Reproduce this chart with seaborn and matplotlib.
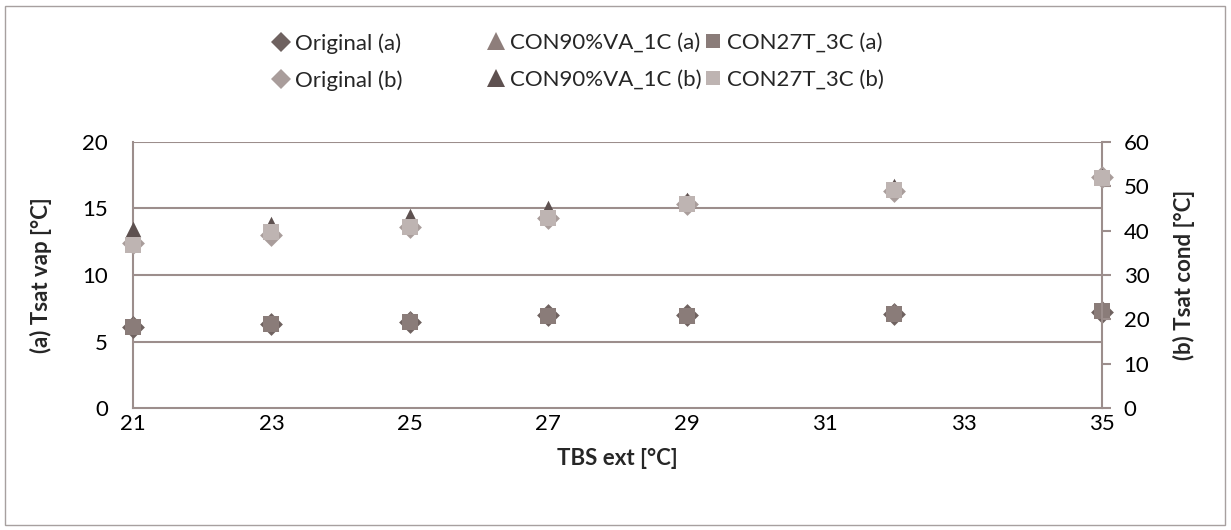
import matplotlib
matplotlib.use("Agg")
import matplotlib.pyplot as plt
import seaborn as sns
from matplotlib.lines import Line2D
from matplotlib.patches import Rectangle

# Outdoor dry-bulb temperature [°C]
tbs_ext = [21, 23, 25, 27, 29, 32, 35]

# (a) evaporating saturation temperature [°C] - left axis
original_a = [6.1, 6.3, 6.5, 7.0, 7.0, 7.1, 7.2]
con90_a = [6.3, 6.4, 6.7, 7.0, 7.0, 7.3, 7.5]
con27_a = [6.1, 6.3, 6.5, 6.9, 6.9, 7.1, 7.3]

# (b) condensing saturation temperature [°C] - right axis
original_b = [37.2, 38.9, 40.9, 42.9, 46.0, 48.9, 52.0]
con90_b = [40.4, 41.5, 43.2, 45.1, 46.9, 50.0, 52.3]
con27_b = [36.7, 39.6, 40.8, 42.9, 45.9, 49.2, 51.9]

labels = ["Original (a)", "CON90%VA_1C (a)", "CON27T_3C (a)",
          "Original (b)", "CON90%VA_1C (b)", "CON27T_3C (b)"]

sns.set_theme(style="white")
plt.rcParams["font.family"] = ["Lato", "DejaVu Sans"]

FS = 16
AXIS_COL = "#9C8E8C"
TEXT_COL = "#000000"

c_orig_a = "#6F6260"
c_con90_a = "#8E7E7B"
c_con27_a = "#8A7C79"
c_orig_b = "#A99D9B"
c_con90_b = "#5E5150"
c_con27_b = "#BEB4B2"

fig = plt.figure(figsize=(12.31, 5.30), dpi=100)
fig.patch.set_facecolor("white")
fig.patches.append(Rectangle((5 / 1231, 5 / 530), 1220 / 1231, 519 / 530,
                             transform=fig.transFigure, fill=False,
                             edgecolor="#A7A09F", linewidth=1.0))

ax = fig.add_axes([133 / 1231, (530 - 408.3) / 530, 969 / 1231, 266.6 / 530])
ax2 = ax.twinx()

# primary axis series
sns.scatterplot(x=tbs_ext, y=original_a, ax=ax, marker="D", s=135,
                color=c_orig_a, linewidth=0, zorder=3, clip_on=False)
sns.scatterplot(x=tbs_ext, y=con90_a, ax=ax, marker="^", s=125,
                color=c_con90_a, linewidth=0, zorder=4, clip_on=False)
sns.scatterplot(x=tbs_ext, y=con27_a, ax=ax, marker="s", s=125,
                color=c_con27_a, linewidth=0, zorder=5, clip_on=False)

# secondary axis series
sns.scatterplot(x=tbs_ext, y=original_b, ax=ax2, marker="D", s=135,
                color=c_orig_b, linewidth=0, zorder=3, clip_on=False)
sns.scatterplot(x=tbs_ext, y=con90_b, ax=ax2, marker="^", s=125,
                color=c_con90_b, linewidth=0, zorder=4, clip_on=False)
sns.scatterplot(x=tbs_ext, y=con27_b, ax=ax2, marker="s", s=125,
                color=c_con27_b, linewidth=0, zorder=5, clip_on=False)

ax.set_xlim(21, 35)
ax.set_xticks(range(21, 36, 2))
ax.set_ylim(0, 20)
ax.set_yticks(range(0, 21, 5))
ax2.set_ylim(0, 60)
ax2.set_yticks(range(0, 61, 10))

ax.grid(False)
ax2.grid(False)
for yv in [5, 10, 15, 20]:
    ax.axhline(yv, color=AXIS_COL, linewidth=1.5, zorder=1)

for a in (ax, ax2):
    for side in ("top", "left", "right", "bottom"):
        a.spines[side].set_visible(False)
ax.spines["left"].set_visible(True)
ax.spines["bottom"].set_visible(True)
ax2.spines["right"].set_visible(True)
for sp in (ax.spines["left"], ax.spines["bottom"], ax2.spines["right"]):
    sp.set_color(AXIS_COL)
    sp.set_linewidth(1.5)

ax.tick_params(axis="x", length=0, pad=4, labelsize=FS, labelcolor=TEXT_COL)
ax.tick_params(axis="y", length=0, pad=18, labelsize=FS, labelcolor=TEXT_COL)
ax2.tick_params(axis="y", right=True, direction="out", length=6.5, width=1.5,
                color=AXIS_COL, pad=9, labelsize=FS, labelcolor=TEXT_COL)

ax.set_xlabel("TBS ext [°C]", fontsize=FS, fontweight="bold", labelpad=10)
ax.set_ylabel("(a) Tsat vap [°C]", fontsize=FS, fontweight="bold", labelpad=22)
ax2.set_ylabel("(b) Tsat cond [°C]", fontsize=FS, fontweight="bold",
               labelpad=17, rotation=90)

# legend: three columns of (a)/(b) pairs
def handle(marker, color, size):
    return Line2D([], [], linestyle="none", marker=marker, markersize=size,
                  markerfacecolor=color, markeredgecolor=color, markeredgewidth=0)

columns = [
    ([handle("D", c_orig_a, 10.5), handle("D", c_orig_b, 10.5)], labels[0::3], 272),
    ([handle("^", c_con90_a, 12.5), handle("^", c_con90_b, 12.5)], labels[1::3], 487),
    ([handle("s", c_con27_a, 9.5), handle("s", c_con27_b, 9.5)], labels[2::3], 704),
]
for hs, ls, xpx in columns:
    fig.legend(hs, ls, loc="upper left", bbox_to_anchor=(xpx / 1231, 1 - 33 / 530),
               frameon=False, fontsize=FS, handlelength=0.85, handletextpad=0.2,
               labelspacing=0.75, borderaxespad=0, borderpad=0)

fig.savefig("out.png", dpi=100, facecolor="white")
